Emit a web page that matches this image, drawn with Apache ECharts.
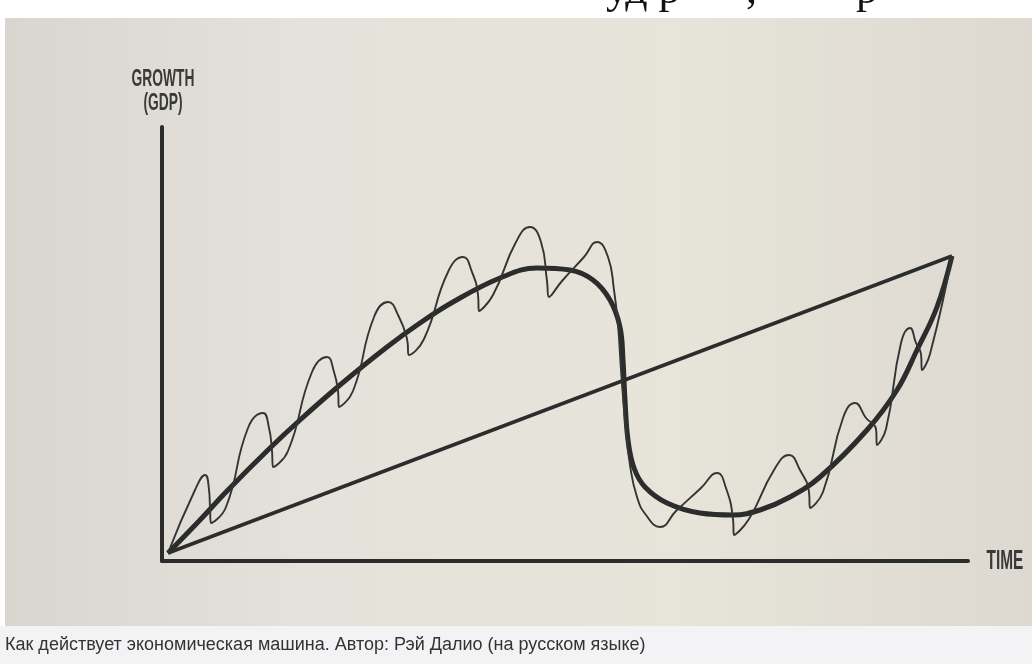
<!DOCTYPE html>
<html>
<head>
	<meta charset="utf-8">
	<title>Как действует экономическая машина</title>
	<style type="text/css">
		html, body{
			margin:0;
			padding:0;
			background:#fff;
		}
		#main{
			width:1032px;
			height:664px;
		}
	</style>
</head>
<body>
<div id="main"></div>
<script type="text/javascript" src="https://cdn.jsdelivr.net/npm/echarts@6/dist/echarts.min.js"></script>
<script type="text/javascript">
	// values: x = time, y = growth (same units as the axes)
	var productivity = [[6,8],[790,305]];

	var longCycle = [
		[6,8],[38,41],[65,70],[108,113],[138,141],[178,176],[225,214],[258,238],
		[291,259],[338,283],[375,293],[408,291],[431,281],[448,261],[458,234],
		[461,201],[463,161],[466,121],[472,93],[483,74],[505,58],[538,48],
		[571,46],[598,51],[628,64],[658,84],[705,131],[735,171],[755,211],
		[775,254],[790,305]
	];

	// each wave: before peak, peak, after peak, fall, trough, after trough
	var shortCycle = [
		[6,8],
		[33,71],[43,86],[47,71],[48,54],[49,38],[64,54],
		[86,133],[101,148],[107,133],[110,110],[111,94],[126,110],
		[150,189],[165,204],[172,189],[176,170],[177,154],[191,170],
		[212,244],[226,259],[237,244],[245,222],[247,206],[262,222],
		[286,289],[301,304],[310,289],[316,266],[317,250],[331,266],
		[354,319],[368,334],[379,319],[385,280],[387,264],[400,280],
		[422,304],[435,319],[446,304],[452,271],[456,236],[459,191],[463,141],
		[468,96],[475,64],[484,46],[498,34],[514,50],
		[539,73],[555,88],[564,73],[571,42],[572,26],[587,42],
		[612,91],[627,106],[638,91],[647,69],[648,53],[661,69],
		[681,143],[693,158],[704,143],[714,132],[715,116],[724,132],
		[739,218],[748,233],[754,218],[759,207],[760,191],[768,207],
		[790,305]
	];

	var yTitle = ['GROWTH', '(GDP)'];
	var xTitle = 'TIME';
	var caption = 'Как действует экономическая машина. Автор: Рэй Далио (на русском языке)';

	var ink = '#2b2d2c';
	var labelFont = 'bold 23px "Liberation Sans", Arial, sans-serif';
	var pageFont = '44px "Liberation Serif", serif';

	var myChart = echarts.init(document.getElementById('main'));

	var option = {
		animation: false,
		backgroundColor: '#ffffff',
		grid: {
			left: 162,
			right: 64,
			top: 127,
			bottom: 103
		},
		xAxis: {
			type: 'value',
			min: 0,
			max: 806,
			splitLine: {show: false},
			axisTick: {show: false},
			axisLabel: {show: false},
			axisLine: {
				show: true,
				lineStyle: {color: ink, width: 4}
			}
		},
		yAxis: {
			type: 'value',
			min: 0,
			max: 434,
			splitLine: {show: false},
			axisTick: {show: false},
			axisLabel: {show: false},
			axisLine: {
				show: true,
				lineStyle: {color: ink, width: 4}
			}
		},
		graphic: [
			// bits of the page text above the photo (the photo covers the rest)
			{
				type: 'text',
				z: -200,
				x: 606,
				y: 13,
				style: {text: 'уд р', font: pageFont, fill: '#111', textVerticalAlign: 'bottom'}
			},
			{
				type: 'text',
				z: -200,
				x: 746,
				y: 13,
				style: {text: ',', font: pageFont, fill: '#111', textVerticalAlign: 'bottom'}
			},
			{
				type: 'text',
				z: -200,
				x: 856,
				y: 13,
				style: {text: 'р', font: pageFont, fill: '#111', textVerticalAlign: 'bottom'}
			},
			{
				type: 'rect',
				z: -100,
				shape: {x: 5, y: 18, width: 1027, height: 608},
				style: {
					fill: new echarts.graphic.LinearGradient(0, 0, 1, 0, [
						{offset: 0, color: '#d9d6cf'},
						{offset: 0.3, color: '#e4e2da'},
						{offset: 0.65, color: '#e7e4da'},
						{offset: 1, color: '#ddd9d0'}
					])
				}
			},
			{
				type: 'rect',
				z: -100,
				shape: {x: 0, y: 626, width: 1032, height: 38},
				style: {fill: '#f3f3f5'}
			},
			{
				type: 'text',
				x: 5,
				y: 645,
				style: {
					text: caption,
					font: '18px "Liberation Sans", Arial, sans-serif',
					fill: '#333333',
					textVerticalAlign: 'middle'
				}
			},
			{
				type: 'text',
				x: 163,
				y: 80,
				scaleX: 0.6,
				style: {text: yTitle[0], font: labelFont, fill: '#383a39', textAlign: 'center', textVerticalAlign: 'middle'}
			},
			{
				type: 'text',
				x: 163,
				y: 104,
				scaleX: 0.6,
				style: {text: yTitle[1], font: labelFont, fill: '#383a39', textAlign: 'center', textVerticalAlign: 'middle'}
			},
			{
				type: 'text',
				x: 1005,
				y: 562,
				scaleX: 0.57,
				style: {text: xTitle, font: 'bold 27px "Liberation Sans", Arial, sans-serif', fill: '#383a39', textAlign: 'center', textVerticalAlign: 'middle'}
			}
		],
		series: [
			{
				name: 'productivity',
				type: 'line',
				data: productivity,
				symbol: 'none',
				lineStyle: {color: ink, width: 3.5}
			},
			{
				name: 'long-term debt cycle',
				type: 'line',
				data: longCycle,
				smooth: 0.4,
				symbol: 'none',
				lineStyle: {color: ink, width: 5}
			},
			{
				name: 'short-term debt cycle',
				type: 'line',
				data: shortCycle,
				smooth: 0.5,
				symbol: 'none',
				lineStyle: {color: '#333534', width: 1.9}
			}
		]
	};

	myChart.setOption(option);
</script>
</body>
</html>
